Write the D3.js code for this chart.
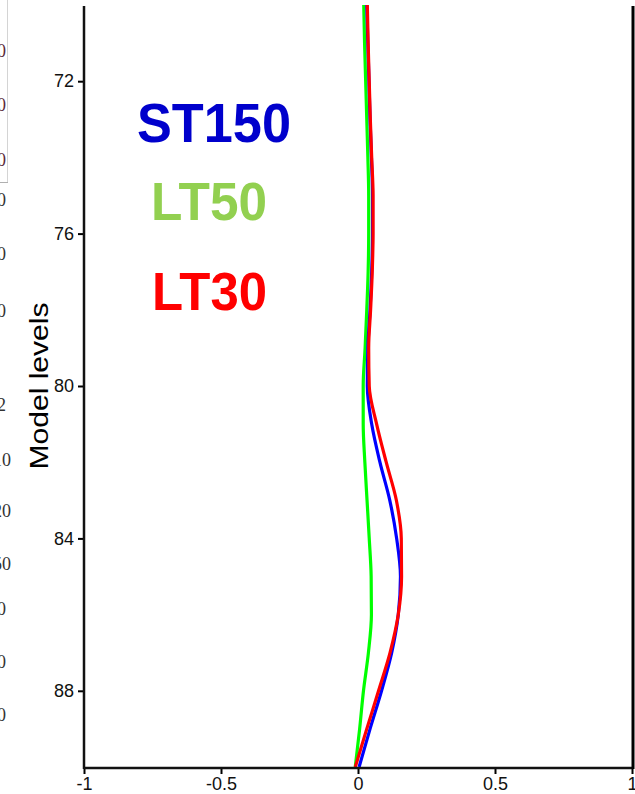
<!DOCTYPE html>
<html>
<head>
<meta charset="utf-8">
<script src="https://cdn.jsdelivr.net/npm/d3@7"></script>
<style>
  body { margin: 0; background: #fff; }
  text { font-family: "Liberation Sans", Arial, sans-serif; }
</style>
</head>
<body>
<svg id="chart"></svg>
<script>
// model levels 70..90
var levels = d3.range(70, 91);
var st150 = [0.032, 0.036, 0.040, 0.044, 0.049, 0.053, 0.053, 0.050, 0.044, 0.036, 0.034,
             0.050, 0.080, 0.116, 0.141, 0.155, 0.147, 0.123, 0.086, 0.044, 0.004];
var lt50  = [0.021, 0.024, 0.028, 0.032, 0.036, 0.039, 0.039, 0.037, 0.032, 0.026, 0.019,
             0.019, 0.025, 0.033, 0.041, 0.048, 0.049, 0.038, 0.020, 0.006, -0.010];
var lt30  = [0.034, 0.037, 0.041, 0.045, 0.050, 0.055, 0.055, 0.052, 0.046, 0.039, 0.041,
             0.068, 0.103, 0.140, 0.158, 0.159, 0.147, 0.117, 0.075, 0.032, -0.010];
var seriesNames = ["LT50", "ST150", "LT30"];
var xTicks = [-1, -0.5, 0, 0.5, 1];
var yTicks = [72, 76, 80, 84, 88];
// bits of the neighbouring panel that show at the left edge
var fragText = ["0", "0", "0", "0", "0", "0", "2", "10", "20", "50", "0", "0", "0"];

var width = 635, height = 794;
var svg = d3.select("#chart").attr("width", width).attr("height", height);

var x = d3.scaleLinear().domain([-1, 1]).range([84, 632]);
var y = d3.scaleLinear().domain([70, 90]).range([5, 767]);

// left-edge fragments
var fragY = [57, 111, 166, 206, 260, 317, 411, 466, 517, 570, 615, 668, 721];
var fragEnd = [6, 6, 6, 6, 6, 6, 6, 11, 11, 11, 6, 6, 6];
svg.append("line").attr("x1", 7.5).attr("x2", 7.5).attr("y1", 0).attr("y2", 182)
   .attr("stroke", "#d4d4d4").attr("stroke-width", 1);
svg.append("line").attr("x1", 0).attr("x2", 8).attr("y1", 182.5).attr("y2", 182.5)
   .attr("stroke", "#b0b0b0").attr("stroke-width", 1);
svg.selectAll("text.frag")
   .data(fragText)
   .enter()
   .append("text")
   .attr("class", "frag")
   .attr("x", function(d, i) { return fragEnd[i]; })
   .attr("y", function(d, i) { return fragY[i]; })
   .attr("text-anchor", "end")
   .style("font-family", "'Liberation Serif', 'DejaVu Serif', serif")
   .style("font-size", "18px")
   .style("fill", function(d, i) { return i < 3 ? "#5a2a3a" : "#333"; })
   .text(function(d) { return d; });

// lines
var colors = { "LT50": "#00ff00", "ST150": "#0000ff", "LT30": "#ff0000" };
var values = { "LT50": lt50, "ST150": st150, "LT30": lt30 };
var line = d3.line()
             .curve(d3.curveMonotoneY)
             .x(function(d) { return x(d.v); })
             .y(function(d) { return y(d.lev); });

svg.selectAll("path.series")
   .data(seriesNames)
   .enter()
   .append("path")
   .attr("class", "series")
   .attr("fill", "none")
   .attr("stroke", function(d) { return colors[d]; })
   .attr("stroke-width", 3.2)
   .attr("stroke-linejoin", "round")
   .attr("d", function(d) {
       return line(levels.map(function(lev, i) { return { lev: lev, v: values[d][i] }; }));
   });

// axes
var yAxis = svg.append("g")
   .attr("transform", "translate(" + x(-1) + ",0)")
   .call(d3.axisLeft(y).tickValues(yTicks).tickSize(6).tickPadding(4).tickFormat(d3.format("d")));
var xAxis = svg.append("g")
   .attr("transform", "translate(0," + (y(90) + 1) + ")")
   .call(d3.axisBottom(x).tickValues(xTicks).tickSize(6).tickPadding(3)
           .tickFormat(function(d) { return String(d); }));

[yAxis, xAxis].forEach(function(a) {
    a.select(".domain").remove();
    a.selectAll(".tick line").attr("stroke", "#000").attr("stroke-width", 2);
    a.selectAll(".tick text").style("font-size", "18px").style("fill", "#111")
     .style("font-family", "'Liberation Sans', Arial, sans-serif");
});

// frame lines: left, bottom, right
svg.append("line").attr("x1", x(-1)).attr("x2", x(-1)).attr("y1", 6).attr("y2", y(90) + 2)
   .attr("stroke", "#111").attr("stroke-width", 2.5);
svg.append("line").attr("x1", x(-1)).attr("x2", x(1)).attr("y1", y(90) + 1).attr("y2", y(90) + 1)
   .attr("stroke", "#111").attr("stroke-width", 2.5);
svg.append("line").attr("x1", x(1) + 1).attr("x2", x(1) + 1).attr("y1", 6).attr("y2", y(90) + 2)
   .attr("stroke", "#000").attr("stroke-width", 3);

// y label
svg.append("text")
   .attr("transform", "translate(48,386) rotate(-90)")
   .attr("text-anchor", "middle")
   .attr("textLength", 167)
   .attr("lengthAdjust", "spacingAndGlyphs")
   .style("font-size", "25px")
   .style("fill", "#000")
   .text("Model levels");

// legend labels
var legendNames = ["ST150", "LT50", "LT30"];
var legendColors = ["#0000cc", "#92d050", "#ff0000"];
var legendX = [137, 151, 152];
var legendY = [142, 220, 310];
var legendW = [154, 116, 115];
svg.selectAll("text.legend")
   .data(legendNames)
   .enter()
   .append("text")
   .attr("class", "legend")
   .attr("x", function(d, i) { return legendX[i]; })
   .attr("y", function(d, i) { return legendY[i]; })
   .attr("textLength", function(d, i) { return legendW[i]; })
   .attr("lengthAdjust", "spacingAndGlyphs")
   .style("font-size", function(d, i) { return i === 0 ? "55px" : "53px"; })
   .style("font-weight", "bold")
   .style("fill", function(d, i) { return legendColors[i]; })
   .text(function(d) { return d; });
</script>
</body>
</html>
